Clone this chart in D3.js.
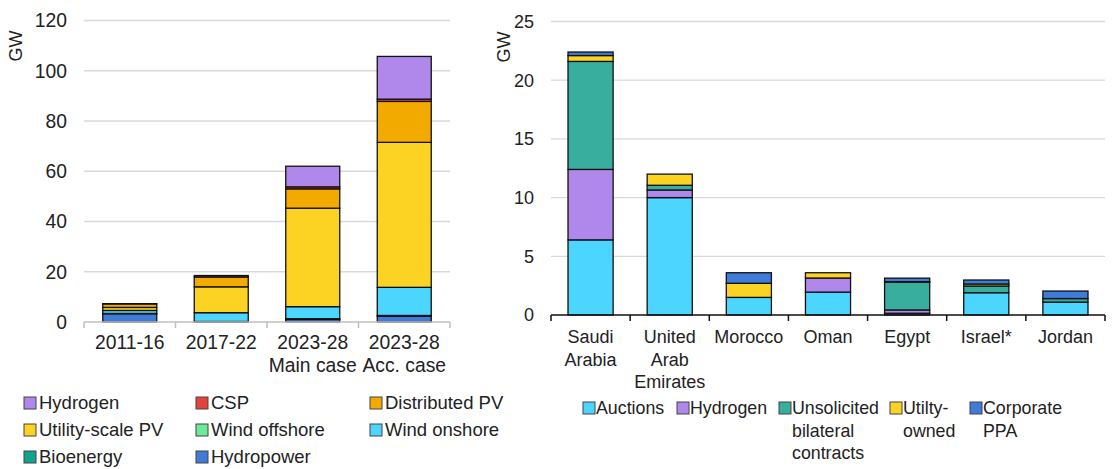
<!DOCTYPE html>
<html>
<head>
<meta charset="utf-8">
<script src="https://cdn.jsdelivr.net/npm/d3@7"></script>
<style>
  body { margin: 0; background: #fff; }
  svg { font-family: "Liberation Sans", Arial, sans-serif; }
</style>
</head>
<body>
<div id="chart"></div>
<script>
// ---- Left chart data (GW) ----
const periods = [["2011-16"], ["2017-22"], ["2023-28", "Main case"], ["2023-28", "Acc. case"]];
const techKeys = ["Hydropower", "Bioenergy", "Wind onshore", "Wind offshore", "Utility-scale PV", "Distributed PV", "CSP", "Hydrogen"];
const hydropower = [3.3, 0.1, 1.0, 2.3];
const bioenergy = [0.1, 0.1, 0.3, 0.3];
const windOnshore = [1.2, 3.5, 4.8, 11.2];
const windOffshore = [0, 0, 0, 0];
const utilityPV = [1.2, 10.3, 39.2, 57.7];
const distributedPV = [1.4, 3.9, 7.7, 16.3];
const csp = [0.1, 0.6, 0.8, 0.9];
const hydrogenTech = [0, 0, 8.2, 17.0];
const leftTicks = [0, 20, 40, 60, 80, 100, 120];

// ---- Right chart data (GW) ----
const countries = [["Saudi", "Arabia"], ["United", "Arab", "Emirates"], ["Morocco"], ["Oman"], ["Egypt"], ["Israel*"], ["Jordan"]];
const contractKeys = ["Auctions", "Hydrogen", "Unsolicited", "Utility-owned", "Corporate PPA"];
const auctions = [6.4, 10.0, 1.5, 1.95, 0.15, 1.9, 1.1];
const hydrogenContract = [6.0, 0.65, 0, 1.2, 0.28, 0, 0];
const unsolicited = [9.2, 0.4, 0, 0, 2.36, 0.57, 0.3];
const utilityOwned = [0.5, 0.95, 1.2, 0.45, 0.05, 0.17, 0];
const corporatePPA = [0.3, 0, 0.9, 0, 0.3, 0.34, 0.64];
const rightTicks = [0, 5, 10, 15, 20, 25];

// colours
const techColors = {
  "Hydrogen": "#b088ec", "CSP": "#e2443a", "Distributed PV": "#f2a900",
  "Utility-scale PV": "#fdd323", "Wind offshore": "#6ee89a", "Wind onshore": "#4bd5ff",
  "Bioenergy": "#12a38e", "Hydropower": "#3f7bd8"
};
const contractColors = {
  "Auctions": "#4bd5ff", "Hydrogen": "#b088ec", "Unsolicited": "#38ae9f",
  "Utility-owned": "#fdd323", "Corporate PPA": "#3f7bd8"
};

const techLegend = [["Hydrogen", "CSP", "Distributed PV"], ["Utility-scale PV", "Wind offshore", "Wind onshore"], ["Bioenergy", "Hydropower"]];
const contractLegend = [
  ["Auctions", ["Auctions"]], ["Hydrogen", ["Hydrogen"]],
  ["Unsolicited", ["Unsolicited", "bilateral", "contracts"]],
  ["Utility-owned", ["Utilty-", "owned"]], ["Corporate PPA", ["Corporate", "PPA"]]
];

const svg = d3.select("#chart").append("svg").attr("width", 1119).attr("height", 469);

// build rows for stacking
const leftRows = periods.map((p, i) => ({
  i, "Hydropower": hydropower[i], "Bioenergy": bioenergy[i], "Wind onshore": windOnshore[i],
  "Wind offshore": windOffshore[i], "Utility-scale PV": utilityPV[i], "Distributed PV": distributedPV[i],
  "CSP": csp[i], "Hydrogen": hydrogenTech[i]
}));
const rightRows = countries.map((c, i) => ({
  i, "Auctions": auctions[i], "Hydrogen": hydrogenContract[i], "Unsolicited": unsolicited[i],
  "Utility-owned": utilityOwned[i], "Corporate PPA": corporatePPA[i]
}));

function drawChart({ rows, keys, colors, labels, ticks, x0, x1, yBase, yTop, axisColor, labelRight, gwPos, labelY, padding, fontSize }) {
  const x = d3.scaleBand().domain(d3.range(rows.length)).range([x0, x1]).paddingInner(padding).paddingOuter(padding / 2);
  const y = d3.scaleLinear().domain([0, d3.max(ticks)]).range([yBase, yTop]);
  const g = svg.append("g");

  // gridlines
  g.selectAll(".grid").data(ticks.slice(1)).enter().append("line")
    .attr("x1", x0).attr("x2", x1)
    .attr("y1", d => y(d)).attr("y2", d => y(d))
    .attr("stroke", "#d9d9d9").attr("stroke-width", 1.3);

  // y tick labels
  g.selectAll(".ylab").data(ticks).enter().append("text")
    .attr("x", labelRight).attr("y", d => y(d)).attr("dy", "0.35em")
    .attr("text-anchor", "end").attr("font-size", fontSize).attr("fill", "#222")
    .text(d => d);

  // GW label
  g.append("text")
    .attr("transform", `translate(${gwPos[0]},${gwPos[1]}) rotate(-90)`)
    .attr("text-anchor", "middle").attr("dy", "0.35em")
    .attr("font-size", 18).attr("fill", "#222").text("GW");

  // bars
  const series = d3.stack().keys(keys)(rows);
  g.selectAll(".layer").data(series).enter().append("g")
    .attr("fill", d => colors[d.key])
    .selectAll("rect").data(d => d).enter().append("rect")
    .attr("x", (d, i) => x(i)).attr("width", x.bandwidth())
    .attr("y", d => y(d[1])).attr("height", d => Math.max(0, y(d[0]) - y(d[1])))
    .attr("stroke", "#111").attr("stroke-width", 1.3);

  // x axis line + ticks at band boundaries
  const step = x.step();
  g.append("line").attr("x1", x0).attr("x2", x1).attr("y1", yBase).attr("y2", yBase)
    .attr("stroke", axisColor).attr("stroke-width", 1.5);
  g.selectAll(".tick").data(d3.range(rows.length + 1)).enter().append("line")
    .attr("x1", d => x0 + d * step).attr("x2", d => x0 + d * step)
    .attr("y1", yBase).attr("y2", yBase + 6)
    .attr("stroke", axisColor).attr("stroke-width", 1.5);

  // category labels
  labels.forEach((lines, i) => {
    const t = g.append("text").attr("text-anchor", "middle").attr("font-size", fontSize).attr("fill", "#222");
    lines.forEach((ln, j) => {
      t.append("tspan").attr("x", x(i) + x.bandwidth() / 2).attr("y", labelY + j * 22.5).text(ln);
    });
  });
}

drawChart({
  rows: leftRows, keys: techKeys, colors: techColors, labels: periods, ticks: leftTicks,
  x0: 84, x1: 450, yBase: 322, yTop: 20.5, axisColor: "#bfbfbf", labelRight: 67,
  gwPos: [16, 46], labelY: 349, padding: 0.41, fontSize: 19.3
});

drawChart({
  rows: rightRows, keys: contractKeys, colors: contractColors, labels: countries, ticks: rightTicks,
  x0: 551, x1: 1105, yBase: 315, yTop: 21.5, axisColor: "#111", labelRight: 534,
  gwPos: [504, 47], labelY: 343, padding: 0.43, fontSize: 18
});

// left legend
const colX = [24, 196, 370];
const rowY = [403, 430, 457];
techLegend.forEach((row, r) => {
  row.forEach((key, c) => {
    const lg = svg.append("g").attr("transform", `translate(${colX[c]},${rowY[r]})`);
    lg.append("rect").attr("x", 0).attr("y", -6).attr("width", 12).attr("height", 12)
      .attr("fill", techColors[key]).attr("stroke", "#444").attr("stroke-width", 1);
    lg.append("text").attr("x", 15).attr("dy", "0.35em").attr("font-size", 18.5)
      .attr("fill", "#222").text(key);
  });
});

// right legend
const rightLegX = [583, 677, 779, 890, 970];
contractLegend.forEach(([key, lines], i) => {
  const lg = svg.append("g").attr("transform", `translate(${rightLegX[i]},408)`);
  lg.append("rect").attr("x", 0).attr("y", -6).attr("width", 12).attr("height", 12)
    .attr("fill", contractColors[key]).attr("stroke", "#444").attr("stroke-width", 1);
  const t = lg.append("text").attr("font-size", 17.8).attr("fill", "#222");
  lines.forEach((ln, j) => {
    t.append("tspan").attr("x", 13).attr("y", j * 22.5).attr("dy", "0.35em").text(ln);
  });
});
</script>
</body>
</html>
